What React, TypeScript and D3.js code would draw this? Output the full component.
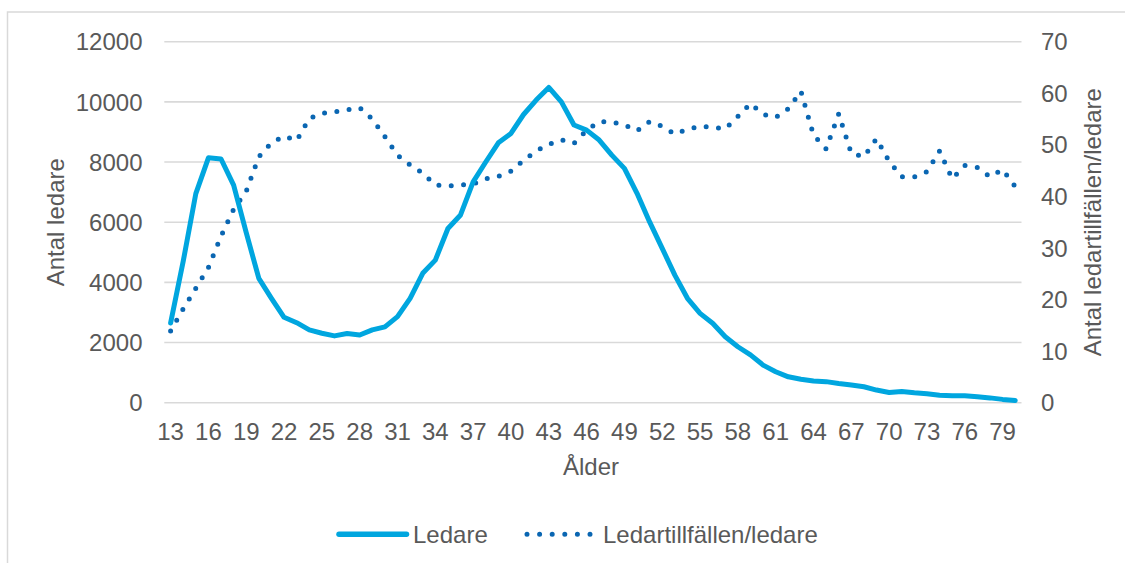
import React, { useEffect, useRef } from "react";
import * as d3 from "d3";

const ages: number[] = [
  13, 14, 15, 16, 17, 18, 19, 20, 21, 22, 23, 24, 25, 26, 27, 28, 29, 30, 31, 32,
  33, 34, 35, 36, 37, 38, 39, 40, 41, 42, 43, 44, 45, 46, 47, 48, 49, 50, 51, 52,
  53, 54, 55, 56, 57, 58, 59, 60, 61, 62, 63, 64, 65, 66, 67, 68, 69, 70, 71, 72,
  73, 74, 75, 76, 77, 78, 79, 80,
];

const ledare: number[] = [
  2650, 4700, 6950, 8140, 8100, 7230, 5650, 4130, 3470, 2840, 2660, 2420, 2310, 2220, 2300, 2250, 2420, 2520, 2860, 3470,
  4300, 4740, 5790, 6240, 7340, 8000, 8640, 8950, 9580, 10060, 10480, 10000, 9230, 9060, 8730, 8230, 7790, 6960, 6010, 5130,
  4240, 3470, 2970, 2640, 2190, 1860, 1590, 1250, 1030, 860, 780, 720, 700, 640, 590, 530, 420, 340, 370, 330,
  300, 250, 230, 230, 200, 160, 110, 70,
];

const tillfallenPerLedare: number[] = [
  13.9, 18.2, 22.2, 26.2, 32.3, 37.5, 41.0, 47.7, 50.4, 51.7, 50.8, 55.1, 56.1, 56.4, 56.8, 57.2, 55.0, 51.6, 48.0, 46.1,
  44.5, 42.2, 42.0, 42.2, 42.4, 43.4, 43.9, 44.9, 47.0, 48.8, 50.1, 51.0, 50.3, 52.8, 54.5, 54.4, 53.9, 52.7, 54.5, 53.6,
  52.1, 53.0, 53.6, 53.4, 53.1, 55.5, 58.0, 55.9, 55.3, 57.0, 60.4, 51.9, 49.2, 56.0, 48.3, 47.7, 51.2, 46.8, 43.8, 43.8,
  44.8, 48.8, 43.4, 46.0, 45.6, 43.8, 45.2, 41.9,
];

const leftTicks: number[] = [0, 2000, 4000, 6000, 8000, 10000, 12000];
const rightTicks: number[] = [0, 10, 20, 30, 40, 50, 60, 70];
const xTickAges: number[] = [13, 16, 19, 22, 25, 28, 31, 34, 37, 40, 43, 46, 49, 52, 55, 58, 61, 64, 67, 70, 73, 76, 79];

const seriesNames = ["Ledare", "Ledartillfällen/ledare"];
const axisTitles = { left: "Antal ledare", right: "Antal ledartillfällen/ledare", x: "Ålder" };

const W = 1125;
const H = 563;
const plot = { left: 164.3, right: 1021.5, top: 41.7, bottom: 402.7 };
const FONT = "'Liberation Sans', Arial, sans-serif";
const TEXT = "#595959";
const GRID = "#D9D9D9";
const C_SOLID = "#00A6DF";
const C_DOT = "#0A66B2";

export default function App() {
  const dotRef = useRef<SVGPathElement>(null);

  const xb = d3.scaleBand<number>().domain(ages).range([plot.left, plot.right]).padding(0);
  const x = (a: number) => (xb(a) as number) + xb.bandwidth() / 2;
  const yL = d3.scaleLinear().domain([0, 12000]).range([plot.bottom, plot.top]);
  const yR = d3.scaleLinear().domain([0, 70]).range([plot.bottom, plot.top]);

  const lineL = d3
    .line<number>()
    .x((_, i) => x(ages[i]))
    .y((d) => yL(d));
  const lineR = d3
    .line<number>()
    .x((_, i) => x(ages[i]))
    .y((d) => yR(d));

  useEffect(() => {
    const p = dotRef.current;
    if (!p) return;
    const len = p.getTotalLength();
    const n = Math.round(len / 12.4);
    const gap = len / n - 0.02;
    p.setAttribute("stroke-dasharray", `0 ${gap}`);
  }, []);

  const fs = 24;

  return (
    <svg
      width={W}
      height={H}
      style={{ position: "absolute", left: 0, top: 0, background: "#fff" }}
      fontFamily={FONT}
    >
      <rect x={7.5} y={12} width={W + 10} height={H + 10} fill="#fff" stroke={GRID} strokeWidth={1.5} />
      {leftTicks.map((t) => (
        <line key={"g" + t} x1={plot.left} x2={plot.right} y1={yL(t)} y2={yL(t)} stroke={GRID} strokeWidth={1.6} />
      ))}
      {leftTicks.map((t) => (
        <text key={"l" + t} x={142.5} y={yL(t)} dy="0.36em" textAnchor="end" fontSize={fs} fill={TEXT}>
          {t}
        </text>
      ))}
      {rightTicks.map((t) => (
        <text key={"r" + t} x={1041} y={yR(t)} dy="0.36em" textAnchor="start" fontSize={fs} fill={TEXT}>
          {t}
        </text>
      ))}
      {xTickAges.map((a) => (
        <text key={"x" + a} x={x(a)} y={440} textAnchor="middle" fontSize={fs} fill={TEXT}>
          {a}
        </text>
      ))}
      <text x={591} y={475} textAnchor="middle" fontSize={fs} fill={TEXT}>
        {axisTitles.x}
      </text>
      <text
        transform={`translate(55,${(plot.top + plot.bottom) / 2}) rotate(-90)`}
        textAnchor="middle"
        dy="0.36em"
        fontSize={fs}
        fill={TEXT}
      >
        {axisTitles.left}
      </text>
      <text
        transform={`translate(1092,${(plot.top + plot.bottom) / 2}) rotate(-90)`}
        textAnchor="middle"
        dy="0.36em"
        fontSize={fs}
        fill={TEXT}
      >
        {axisTitles.right}
      </text>

      <path
        ref={dotRef}
        d={lineR(tillfallenPerLedare) || ""}
        fill="none"
        stroke={C_DOT}
        strokeWidth={5}
        strokeLinecap="round"
        strokeDasharray="0 12.4"
      />
      <path
        d={lineL(ledare) || ""}
        fill="none"
        stroke={C_SOLID}
        strokeWidth={5}
        strokeLinejoin="round"
        strokeLinecap="round"
      />

      <line x1={339} x2={406.5} y1={534.3} y2={534.3} stroke={C_SOLID} strokeWidth={5.5} strokeLinecap="round" />
      <text x={413} y={534.3} dy="0.36em" fontSize={fs} fill={TEXT}>
        {seriesNames[0]}
      </text>
      <line
        x1={527}
        x2={591}
        y1={534.3}
        y2={534.3}
        stroke={C_DOT}
        strokeWidth={5}
        strokeLinecap="round"
        strokeDasharray="0 12.6"
      />
      <text x={603} y={534.3} dy="0.36em" fontSize={fs} fill={TEXT}>
        {seriesNames[1]}
      </text>
    </svg>
  );
}
